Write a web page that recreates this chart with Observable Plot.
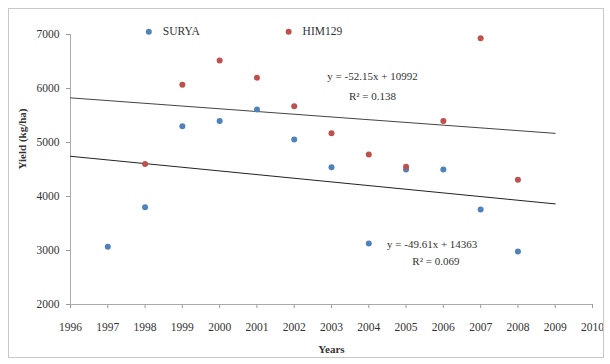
<!DOCTYPE html>
<html><head><meta charset="utf-8">
<script src="https://cdn.jsdelivr.net/npm/d3@7"></script>
<script src="https://cdn.jsdelivr.net/npm/@observablehq/plot@0.6"></script>
<style>
body{margin:0;background:#fff;}
#wrap{position:relative;width:610px;height:364px;}
#border{position:absolute;left:8px;top:8px;width:596px;height:350px;border:1px solid #c8c8c8;box-sizing:border-box;pointer-events:none;}
#wrap svg, #wrap svg text{font-family:"Liberation Serif","Times New Roman",serif !important;}
</style>
</head><body>
<div id="wrap"><div id="border"></div></div>
<script>
const suryaYears = [1997,1998,1999,2000,2001,2002,2003,2004,2005,2006,2007,2008];
const suryaYield = [3070,3800,5300,5400,5610,5055,4540,3130,4500,4500,3760,2980];
const himYears = [1998,1999,2000,2001,2002,2003,2004,2005,2006,2007,2008];
const himYield = [4600,6070,6520,6200,5670,5170,4780,4550,5400,6930,4310];
const trendRange = [1996, 2009];
const xTicks = d3.range(1996, 2011);
const yTicks = [2000,3000,4000,5000,6000,7000];
const seriesNames = ["SURYA","HIM129"];
const seriesColors = ["#4F81BD","#C0504D"];
const eqLabels = [
  {x: 2004.1, y: 6220, text: "y = -52.15x + 10992"},
  {x: 2004.1, y: 5860, text: "R² = 0.138"},
  {x: 2005.7, y: 3110, text: "y = -49.61x + 14363"},
  {x: 2005.8, y: 2800, text: "R² = 0.069"}
];
const legendItems = [
  {x: 1998.1, y: 7050, name: seriesNames[0], color: seriesColors[0]},
  {x: 2001.85, y: 7050, name: seriesNames[1], color: seriesColors[1]}
];

const surya = suryaYears.map((y,i)=>({year:y, value:suryaYield[i]}));
const him = himYears.map((y,i)=>({year:y, value:himYield[i]}));
function fit(data){
  const mx = d3.mean(data,d=>d.year), my = d3.mean(data,d=>d.value);
  const b = d3.sum(data,d=>(d.year-mx)*(d.value-my))/d3.sum(data,d=>(d.year-mx)**2);
  return trendRange.map(x=>({year:x, value: my + b*(x-mx)}));
}

const chart = Plot.plot({
  width: 610, height: 364,
  marginLeft: 70, marginRight: 18, marginTop: 34, marginBottom: 60,
  style: {fontSize: "11px", color: "#333", background: "transparent"},
  x: {domain: [1996, 2010]},
  y: {domain: [2000, 7000]},
  marks: [
    Plot.axisX({ticks: xTicks, tickFormat: d=>String(d), tickSize: 4, tickPadding: 14, label: null, stroke: "#999", fill: "#333", fontSize: 11.5}),
    Plot.axisY({ticks: yTicks, tickFormat: d=>String(d), tickSize: 4, tickPadding: 7, label: null, stroke: "#999", fill: "#333", fontSize: 11.5}),
    Plot.text(["Years"], {frameAnchor: "bottom", dy: 48, fontWeight: "bold", fontSize: 11, fill: "#333"}),
    Plot.text(["Yield (kg/ha)"], {frameAnchor: "left", dx: -48, rotate: -90, fontWeight: "bold", fontSize: 11, fill: "#333"}),
    Plot.ruleX([1996], {stroke: "#aaa"}),
    Plot.ruleY([2000], {stroke: "#aaa"}),
    Plot.line(fit(him), {x: "year", y: "value", stroke: "#444", strokeWidth: 1}),
    Plot.line(fit(surya), {x: "year", y: "value", stroke: "#222", strokeWidth: 1}),
    Plot.dot(surya, {x: "year", y: "value", r: 3, fill: seriesColors[0]}),
    Plot.dot(him, {x: "year", y: "value", r: 3, fill: seriesColors[1]}),
    Plot.dot(legendItems, {x: "x", y: "y", r: 3, fill: "color"}),
    Plot.text(legendItems, {x: "x", y: "y", text: "name", dx: 14, textAnchor: "start", fill: "#333", fontSize: 11.5}),
    Plot.text(eqLabels, {x: "x", y: "y", text: "text", fill: "#333", fontSize: 11})
  ]
});
document.getElementById("wrap").appendChild(chart);
</script>
</body></html>
